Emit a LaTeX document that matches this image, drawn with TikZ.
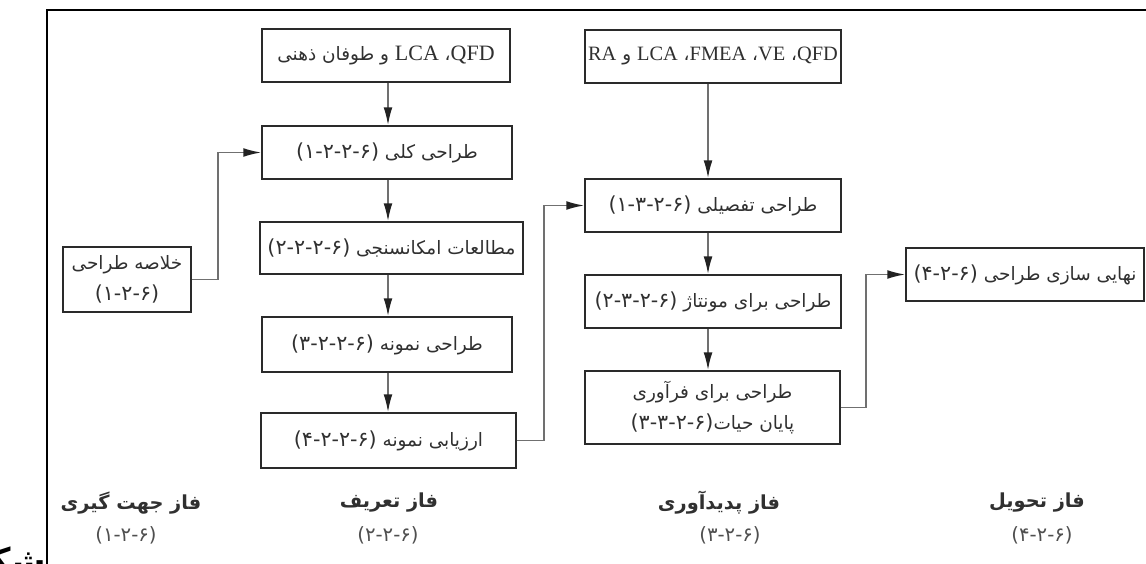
\documentclass[tikz,border=0pt]{standalone}
\usepackage{fontspec}
\setmainfont{Liberation Serif}
\newfontfamily\fa[Script=Arabic]{DejaVu Sans}
\newfontfamily\numf[Scale=1.12]{DejaVu Sans}
\newfontfamily\lat{Liberation Serif}
\TeXXeTstate=1
\usetikzlibrary{arrows.meta}
\definecolor{boxc}{HTML}{2A2A2A}
\definecolor{connc}{HTML}{707070}
\definecolor{tipc}{HTML}{222222}
\definecolor{txt}{HTML}{303030}
\newcommand{\nm}[1]{\beginL{\numf #1}\endL}
\newcommand{\rl}[1]{{\fa\beginR #1\endR}}
\newcommand{\la}[1]{{\lat\fontsize{12.5}{14}\selectfont #1}}
\newcommand{\lb}[1]{{\lat\fontsize{11.6}{14}\selectfont #1}}
\begin{document}
\begin{tikzpicture}[x=0.02cm,y=-0.02cm,
  wh/.style 2 args={minimum width=#1*0.02cm, minimum height=#2*0.02cm},
  box/.style={draw=boxc, line width=1.1pt, text=txt, inner sep=0pt, align=center,
    font=\fa\fontsize{10.5}{18}\selectfont},
  conn/.style={draw=connc, line width=0.85pt, -{Latex[length=10pt,width=5pt,color=tipc]}},
  captitle/.style={text=txt, inner sep=0pt, font=\fa\bfseries\fontsize{11}{14}\selectfont},
  capnum/.style={text=txt!85, inner sep=0pt, font=\fa\fontsize{10}{12}\selectfont}]
\useasboundingbox (0,0) rectangle (1146,564);
\fill[white] (0,0) rectangle (1146,564);
\draw[line width=1.7pt] (47,566) -- (47,10) -- (1148,10);

% column coordinates
\coordinate (c1) at (388,0);
\coordinate (c2) at (708,0);

% definition phase column
\node[box, wh={248}{53}] (A) at (386,55.5) {\rl{\la{QFD}، \la{LCA} و طوفان ذهنی}};
\node[box, wh={250}{53}] (B) at (387,152.5) {\rl{طراحی کلی \nm{(۱-۲-۲-۶)}}};
\node[box, wh={263}{52}] (D) at (391.5,248) {\rl{مطالعات امکانسنجی \nm{(۲-۲-۲-۶)}}};
\node[box, wh={250}{55}] (E) at (387,344.5) {\rl{طراحی نمونه \nm{(۳-۲-۲-۶)}}};
\node[box, wh={255}{55}] (F) at (388.5,440.5) {\rl{ارزیابی نمونه \nm{(۴-۲-۲-۶)}}};

% orientation
\node[box, wh={128}{65}] (S) at (127,279.5) {\rl{خلاصه طراحی}\\\rl{\nm{(۱-۲-۶)}}};

% production phase column
\node[box, wh={256}{53}] (C) at (713,56.5) {\rl{\lb{QFD}، \lb{VE}، \lb{FMEA}، \lb{LCA} و \lb{RA}}};
\node[box, wh={256}{53}] (G) at (713,205.5) {\rl{طراحی تفصیلی \nm{(۱-۳-۲-۶)}}};
\node[box, wh={256}{53}] (H) at (713,301.5) {\rl{طراحی برای مونتاژ \nm{(۲-۳-۲-۶)}}};
\node[box, wh={255}{73}] (I) at (712.5,407.5) {\rl{طراحی برای فرآوری}\\\rl{پایان حیات\nm{(۳-۳-۲-۶)}}};

% delivery
\node[box, wh={238}{53}] (J) at (1025,274.5) {\rl{نهایی سازی طراحی \nm{(۴-۲-۶)}}};

% connectors
\draw[conn] (A.south -| c1) -- (B.north -| c1);
\draw[conn] (B.south -| c1) -- (D.north -| c1);
\draw[conn] (D.south -| c1) -- (E.north -| c1);
\draw[conn] (E.south -| c1) -- (F.north -| c1);
\draw[conn] (C.south -| c2) -- (G.north -| c2);
\draw[conn] (G.south -| c2) -- (H.north -| c2);
\draw[conn] (H.south -| c2) -- (I.north -| c2);
\draw[conn] (S.east) -- ++(26,0) |- (B.west);
\draw[conn] (F.east) -- ++(27,0) |- (G.west);
\draw[conn] (I.east) -- ++(25,0) |- (J.west);

% phase captions
\node[captitle] (p1) at (131,503) {\rl{فاز جهت گیری}};
\node[capnum] (n1) at (126,535) {\nm{(۱-۲-۶)}};
\node[captitle] (p2) at (389,503) {\rl{فاز تعریف}};
\node[capnum] (n2) at (388,535) {\nm{(۲-۲-۶)}};
\node[captitle] (p3) at (719,503) {\rl{فاز پدیدآوری}};
\node[capnum] (n3) at (730,535) {\nm{(۳-۲-۶)}};
\node[captitle] (p4) at (1037,503) {\rl{فاز تحویل}};
\node[capnum] (n4) at (1042,535) {\nm{(۴-۲-۶)}};

% cut-off figure label
\node[anchor=base east, inner sep=0pt, font=\fa\bfseries\fontsize{20}{22}\selectfont] (fig) at (46,573) {\rl{شکل}};
\end{tikzpicture}
\end{document}
